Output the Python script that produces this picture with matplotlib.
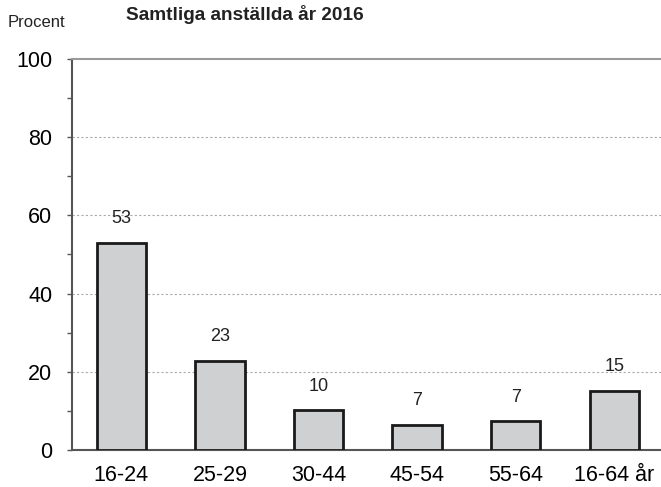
import matplotlib.pyplot as plt
from matplotlib.ticker import MultipleLocator

plt.rcParams['font.family'] = ['Liberation Sans', 'DejaVu Sans']

# data
age_groups = ['16-24', '25-29', '30-44', '45-54', '55-64', '16-64 år']
share = [52.9, 22.8, 10.1, 6.5, 7.3, 15.1]
labels = ['53', '23', '10', '7', '7', '15']

fig = plt.figure(figsize=(6.61, 4.87), dpi=100)
ax = fig.add_axes([0.109, 0.076, 0.895, 0.803])

x = range(len(age_groups))
ax.bar(x, share, width=0.5, color='#cfd0d2', edgecolor='#1a1a1a', linewidth=2.0, zorder=3)

for xi, v, lab in zip(x, share, labels):
    ax.text(xi, v + 4, lab, ha='center', va='bottom', fontsize=13, color='#222222', zorder=4)

ax.set_ylim(0, 100)
ax.set_xlim(-0.5, 5.5)
ax.yaxis.set_major_locator(MultipleLocator(20))
ax.yaxis.set_minor_locator(MultipleLocator(10))
ax.tick_params(axis='y', which='both', direction='out', length=3.6, width=1, color='#555555',
               labelsize=15.5, pad=10.5)
ax.tick_params(axis='x', length=0, labelsize=15.5, pad=10.5)
ax.set_xticks(list(x))
ax.set_xticklabels(age_groups)

# dotted grid
for g in [20, 40, 60, 80]:
    ax.axhline(g, color='#aaaaaa', linestyle=(0, (2, 2)), linewidth=0.8, zorder=1)

ax.spines['right'].set_visible(False)
ax.spines['top'].set_color('#999999')
ax.spines['top'].set_linewidth(1.5)
ax.spines['left'].set_color('#555555')
ax.spines['left'].set_linewidth(1.5)
ax.spines['bottom'].set_color('#555555')
ax.spines['bottom'].set_linewidth(1.5)

fig.text(0.012, 0.953, 'Procent', fontsize=12, ha='left', va='center', color='#222222')
fig.text(0.371, 0.970, 'Samtliga anställda år 2016', fontsize=13.7, fontweight='bold',
         ha='center', va='center', color='#222222')

fig.savefig('out.png', dpi=100)
